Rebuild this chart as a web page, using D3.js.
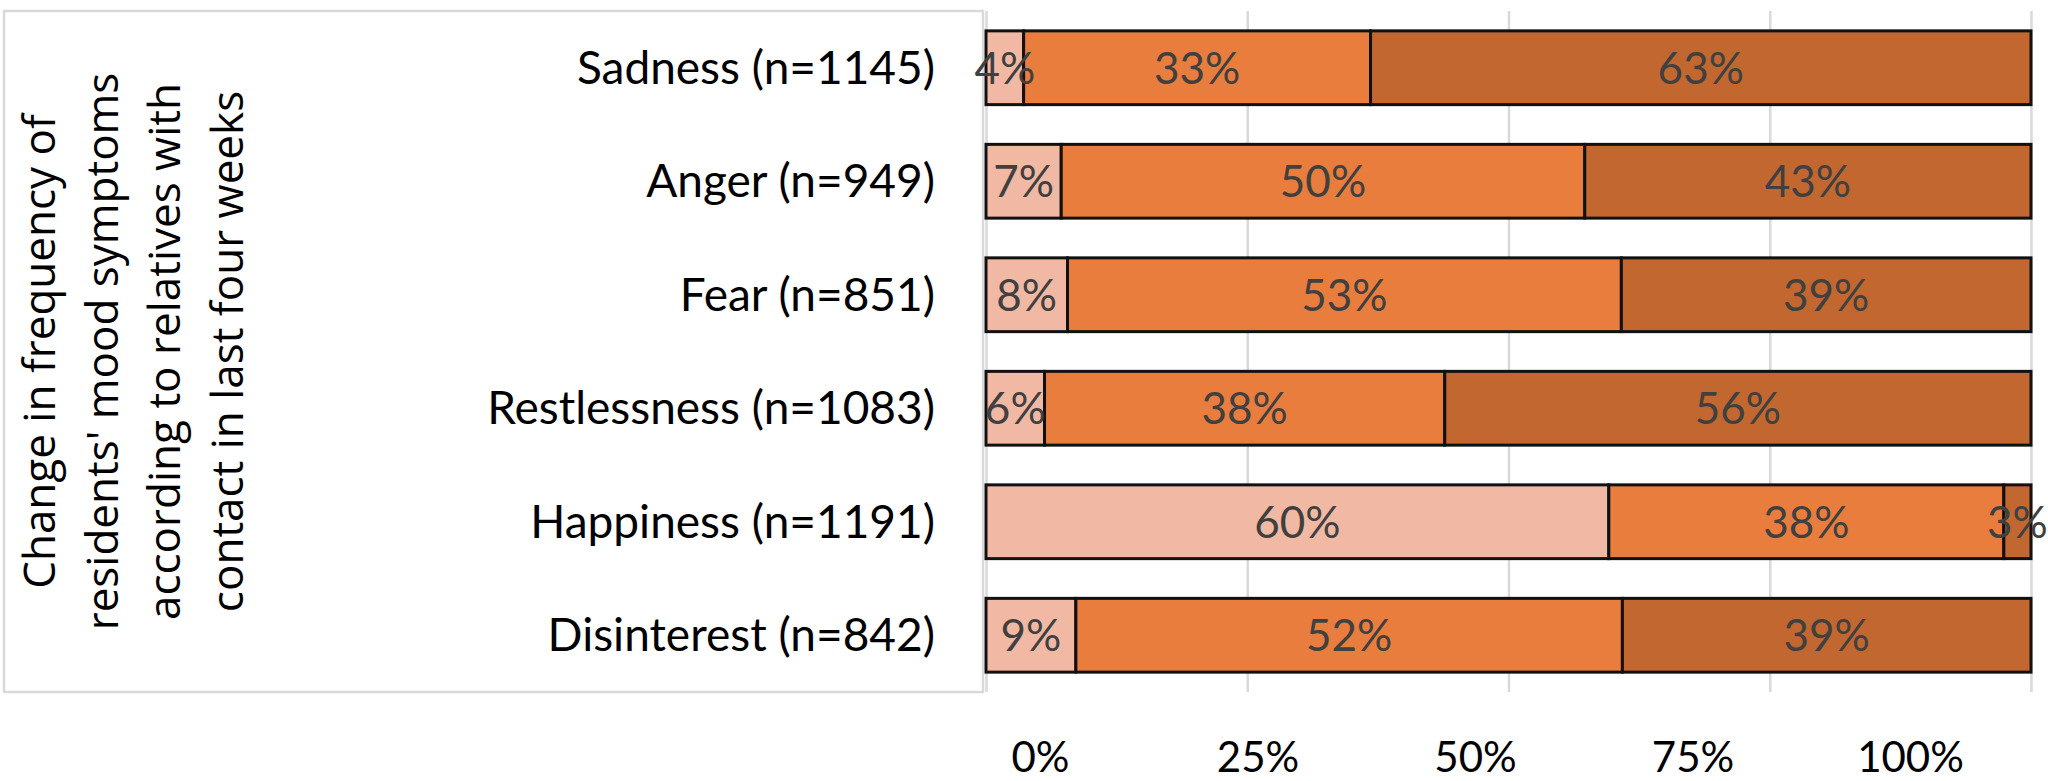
<!DOCTYPE html>
<html>
<head>
<meta charset="utf-8">
<script src="https://cdn.jsdelivr.net/npm/d3@7"></script>
<style>
  html, body { margin: 0; padding: 0; background: #fff; }
  svg { display: block; }
</style>
</head>
<body>
<svg id="chart" width="2048" height="781"></svg>
<script>
// ---- data ----
const categories = ["Sadness (n=1145)", "Anger (n=949)", "Fear (n=851)", "Restlessness (n=1083)", "Happiness (n=1191)", "Disinterest (n=842)"];
const seriesNames = ["Decreased", "Unchanged", "Increased"];
const lessOften = [3.6, 7.2, 7.8, 5.6, 59.6, 8.6];
const unchanged = [33.2, 50.1, 53.0, 38.3, 37.8, 52.3];
const moreOften = [63.2, 42.7, 39.2, 56.1, 2.6, 39.1];
const tickValues = [0, 0.25, 0.5, 0.75, 1];
const titleLines = ["Change in frequency of", "residents' mood symptoms", "according to relatives with", "contact in last four weeks"];

const colors = ["#F1B8A4", "#E87D3D", "#C2672F"];

const svg = d3.select("#chart");

// frame box
const box = { x0: 4, y0: 11, x1: 983, y1: 692 };
svg.append("rect")
  .attr("x", box.x0).attr("y", box.y0)
  .attr("width", box.x1 - box.x0).attr("height", box.y1 - box.y0)
  .attr("fill", "#fff").attr("stroke", "#d9d9d9").attr("stroke-width", 2.5);

const x = d3.scaleLinear().domain([0, 1]).range([986, 2031]);
const xLabels = d3.scaleLinear().domain([0, 1]).range([1040, 1910]);
const y = d3.scaleBand().domain(categories).range([box.y0, box.y1]).paddingInner(0.35).paddingOuter(0.175);

// gridlines
const grid = svg.append("g").attr("transform", `translate(0,${box.y1})`)
  .call(d3.axisBottom(x).tickValues(tickValues).tickSize(-(box.y1 - box.y0)).tickFormat(""));
grid.select(".domain").remove();
grid.selectAll("line").attr("stroke", "#d9d9d9").attr("stroke-width", 2.5);

// tick labels
const tickAxis = svg.append("g").attr("transform", "translate(0,772)")
  .call(d3.axisBottom(xLabels).tickValues(tickValues).tickSize(0).tickFormat(d3.format(".0%")));
tickAxis.select(".domain").remove();
tickAxis.selectAll("text")
  .attr("y", 0).attr("dy", 0)
  .attr("font-family", "Lato, 'Liberation Sans', sans-serif")
  .attr("font-size", 42).attr("fill", "#000");

// stacked data
const rows = categories.map((c, i) => {
  const vals = [lessOften[i], unchanged[i], moreOften[i]];
  const total = d3.sum(vals);
  let acc = 0;
  return vals.map((v, j) => {
    const s = { cat: c, j, v, x0: acc / total, x1: (acc + v) / total };
    acc += v;
    return s;
  });
});
const segs = rows.flat();

svg.append("g").selectAll("rect").data(segs).join("rect")
  .attr("x", d => x(d.x0))
  .attr("y", d => y(d.cat))
  .attr("width", d => x(d.x1) - x(d.x0))
  .attr("height", y.bandwidth())
  .attr("fill", d => colors[d.j])
  .attr("stroke", "#111")
  .attr("stroke-width", 3);

// value labels
svg.append("g").selectAll("text").data(segs).join("text")
  .attr("x", d => (x(d.x0) + x(d.x1)) / 2)
  .attr("y", d => y(d.cat) + y.bandwidth() / 2 + 16)
  .attr("text-anchor", "middle")
  .attr("font-family", "Lato, 'Liberation Sans', sans-serif")
  .attr("font-size", 44)
  .attr("fill", "#404040")
  .text(d => Math.round(d.v) + "%");

// category labels
svg.append("g").selectAll("text").data(categories).join("text")
  .attr("x", 935)
  .attr("y", d => y(d) + y.bandwidth() / 2 + 16)
  .attr("text-anchor", "end")
  .attr("font-family", "Lato, 'Liberation Sans', sans-serif")
  .attr("font-size", 46)
  .attr("fill", "#000")
  .text(d => d);

// rotated title
const cy = (box.y0 + box.y1) / 2;
svg.append("g").selectAll("text").data(titleLines).join("text")
  .attr("transform", (d, i) => `translate(${55 + i * 62.5},${cy}) rotate(-90)`)
  .attr("text-anchor", "middle")
  .attr("font-family", "'Open Sans', 'DejaVu Sans', sans-serif")
  .attr("font-size", 44)
  .attr("fill", "#000")
  .text(d => d);
</script>
</body>
</html>
